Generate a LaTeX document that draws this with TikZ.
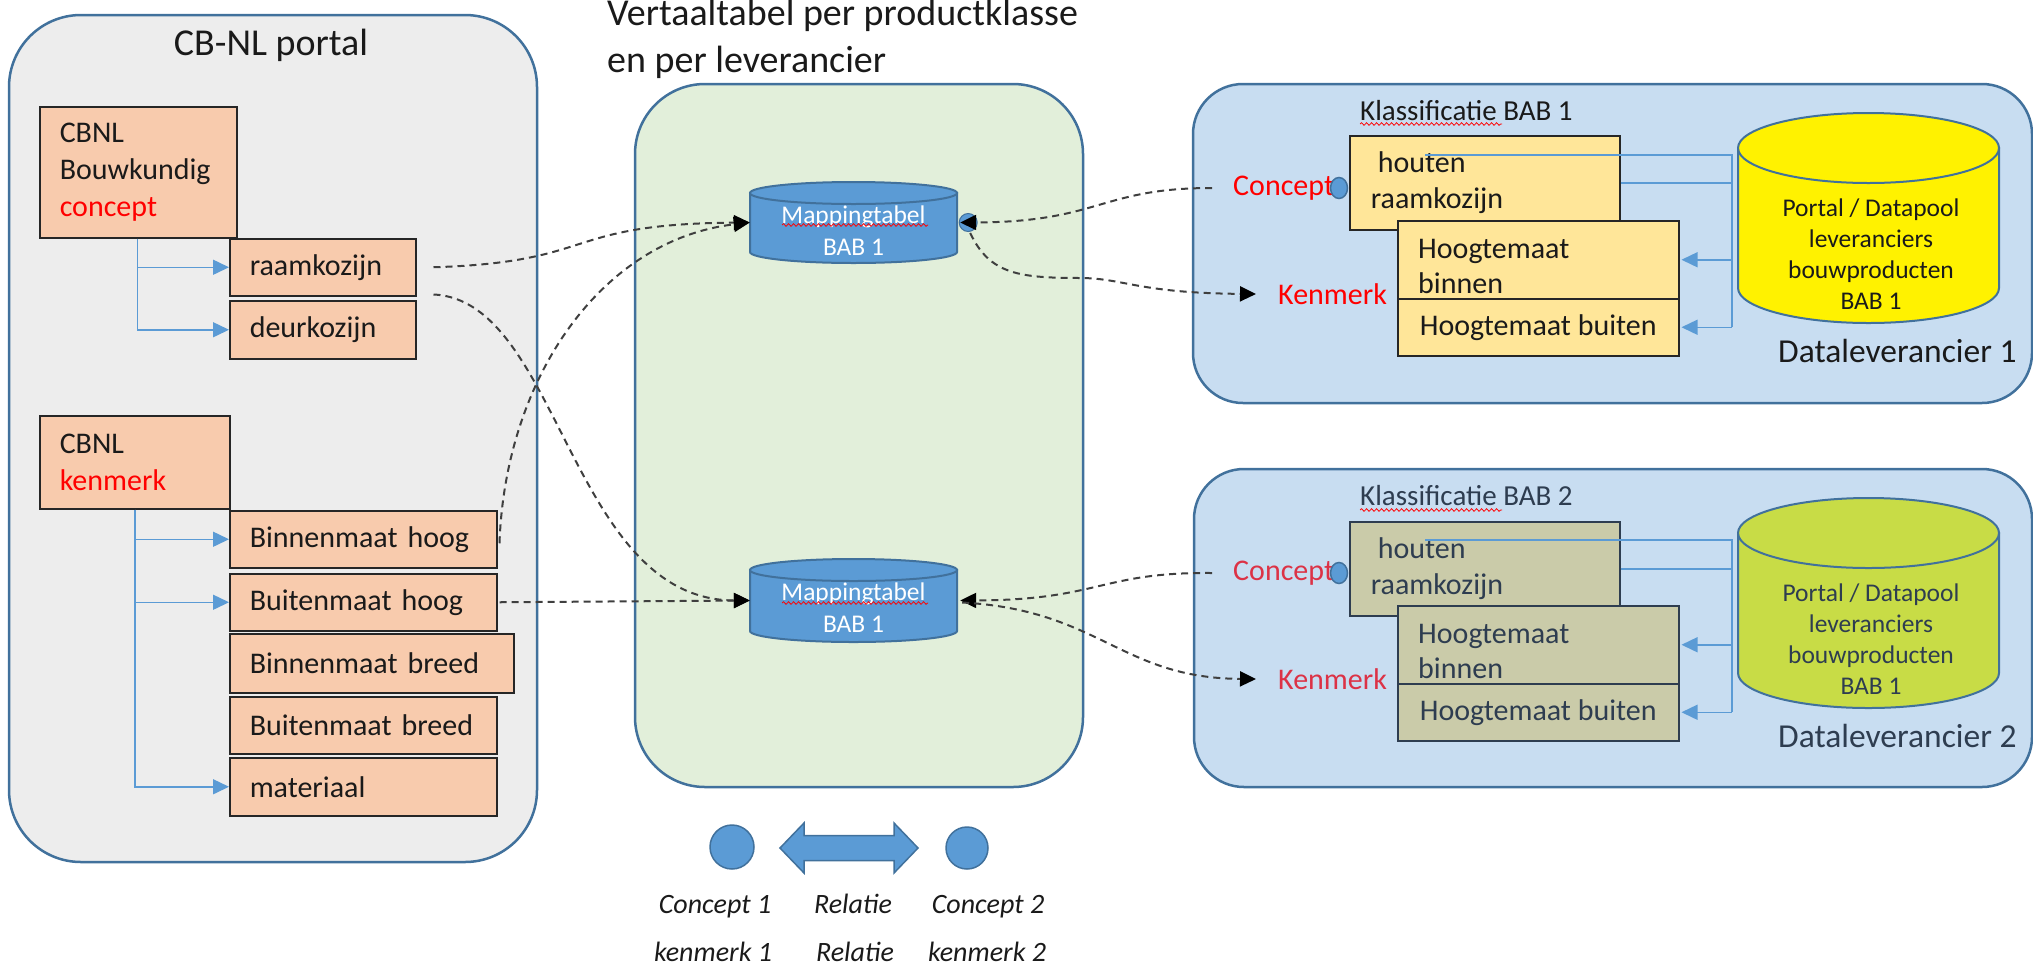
\documentclass[tikz,border=0pt]{standalone}
\usepackage{fontspec}
\setmainfont{Carlito}
\usetikzlibrary{arrows.meta,decorations.pathmorphing,calc}
\definecolor{portalfill}{HTML}{EDEDED}
\definecolor{frame}{HTML}{41719C}
\definecolor{greenfill}{HTML}{E2EFDA}
\definecolor{bluefill}{HTML}{C8DDF1}
\definecolor{orangefill}{HTML}{F8CBAD}
\definecolor{yellowbox}{HTML}{FFE699}
\definecolor{olivebox}{HTML}{CACBA9}
\definecolor{mapblue}{HTML}{5B9BD5}
\definecolor{dashcol}{HTML}{3F3F3F}
\definecolor{slate}{HTML}{2E3D50}
\definecolor{crimson}{HTML}{DC3246}
\definecolor{limecyl}{HTML}{C8DC46}
\definecolor{boxline}{HTML}{262626}
\definecolor{txt}{HTML}{1A1A1A}
\newcommand{\drawcyl}[6]{%
 \path[draw=frame, line width=2, fill=#6] ({#1-#4},#2) -- ({#1-#4},#3) .. controls ({#1-#4},{#3+0.5523*#5}) and ({#1-0.5523*#4},{#3+#5}) .. (#1,{#3+#5}) .. controls ({#1+0.5523*#4},{#3+#5}) and ({#1+#4},{#3+0.5523*#5}) .. ({#1+#4},#3) -- ({#1+#4},#2) -- cycle;
 \path[draw=frame, line width=2, fill=#6] (#1,#2) ellipse [x radius=#4pt, y radius=#5pt];
}
\begin{document}
\begin{tikzpicture}[x=1pt, y=-1pt,
 panel/.style={draw=frame, line width=2.5},
 obox/.style={draw=boxline, fill=orangefill, line width=1.5, inner xsep=20, inner ysep=0, align=left, anchor=north west, font=\fontsize{30}{37}\selectfont, text=txt},
 ybox/.style={draw=boxline, fill=yellowbox, line width=1.5, inner xsep=21, inner ysep=0, align=left, anchor=north west, font=\fontsize{30}{36}\selectfont, text=txt},
 gbox/.style={ybox, draw=slate, fill=olivebox, text=slate},
 barrow/.style={draw=mapblue, line width=1.5, -{Triangle[length=16pt,width=15pt]}},
 bline/.style={draw=mapblue, line width=1.5},
 dcon/.style={draw=dashcol, line width=2, dash pattern=on 7pt off 5pt},
 darrow/.style={dcon, -{Triangle[length=16pt,width=15pt,fill=black,color=black]}},
 wavy/.style={draw=red, line width=0.8, decorate, decoration={snake, amplitude=1.3pt, segment length=5pt}},
 lbl/.style={inner sep=0, text=txt},
]
\useasboundingbox (0,0) rectangle (2033,967);

% ---------- panels ----------
\path[panel, fill=portalfill, rounded corners=72pt] (9,15) rectangle (537,862);
\path[panel, fill=greenfill, rounded corners=70pt] (635,84) rectangle (1083,787);
\path[panel, fill=bluefill, rounded corners=50pt] (1193,84) rectangle (2032,403);
\path[panel, fill=bluefill, rounded corners=50pt] (1194,469) rectangle (2032,787);

% ---------- titles ----------
\node[lbl, anchor=base, font=\fontsize{38}{46}\selectfont] (ptitle) at (271,55) {CB-NL portal};
\node[lbl, anchor=base west, font=\fontsize{38}{46}\selectfont] (vt1) at (607,25) {Vertaaltabel per productklasse};
\node[lbl, anchor=base west, font=\fontsize{38}{46}\selectfont] (vt2) at (607,72) {en per leverancier};

% ---------- left portal boxes ----------
\node[obox, text width=157, minimum height=131] (cb1) at (39,106) {CBNL\\Bouwkundig\\\textcolor{red}{concept}};
\node[obox, text width=146, minimum height=57] (raam) at (229,238) {raamkozijn};
\node[obox, text width=146, minimum height=58] (deur) at (229,300) {deurkozijn};
\node[obox, text width=150, minimum height=93] (cb2) at (39,415) {CBNL\\\textcolor{red}{kenmerk}};
\node[obox, text width=227, minimum height=57] (bh) at (229,510) {Binnenmaat hoog};
\node[obox, text width=227, minimum height=57] (bu) at (229,573) {Buitenmaat hoog};
\node[obox, text width=244, minimum height=59] (bb) at (229,633) {Binnenmaat breed};
\node[obox, text width=227, minimum height=57] (ub) at (229,696) {Buitenmaat breed};
\node[obox, text width=227, minimum height=58] (mat) at (229,757) {materiaal};

\draw[barrow] ($(cb1.south west)+(98.5,0)$) |- (raam.west);
\draw[barrow] ($(cb1.south west)+(98.5,0)$) |- (deur.west);
\draw[barrow] ($(cb2.south west)+(96,0)$) |- (bh.west);
\draw[barrow] ($(cb2.south west)+(96,0)$) |- (bu.west);
\draw[barrow] ($(cb2.south west)+(96,0)$) |- (mat.west);

% ---------- mapping cylinders ----------
\drawcyl{853.5}{193}{252}{103.5}{11}{mapblue}
\drawcyl{853.5}{570}{631}{103.5}{11}{mapblue}
\node[minimum width=207, minimum height=81, inner sep=0] (m1) at (853.5,222.5) {};
\node[minimum width=207, minimum height=83, inner sep=0] (m2) at (853.5,600.5) {};
\node[inner sep=0, align=center, text=white, font=\fontsize{25.5}{32}\selectfont] (m1t) at (853.5,231) {Mappingtabel\\BAB 1};
\node[inner sep=0, align=center, text=white, font=\fontsize{25.5}{32}\selectfont] (m2t) at (853.5,608) {Mappingtabel\\BAB 1};
\draw[wavy] (782,225) -- (928,225);
\draw[wavy] (782,603) -- (928,603);

% ---------- data supplier 1 ----------
\node[lbl, anchor=base west, font=\fontsize{29}{35}\selectfont] (kl1) at (1360,120) {Klassificatie BAB 1};
\draw[wavy] (1360,124) -- (1502,124);
\node[ybox, text width=228, minimum height=94] (hr1) at (1349,135) {\hspace*{7pt}houten\\raamkozijn};
\node[ybox, minimum width=281, minimum height=78, inner sep=0] (hb1) at (1397,220) {};
\node[lbl, anchor=west, align=left, font=\fontsize{30}{35}\selectfont] (hb1t) at (1418,266.5) {Hoogtemaat\\binnen};
\node[ybox, minimum width=281, inner xsep=0, minimum height=57] (hu1) at (1397,298) {Hoogtemaat buiten};
\drawcyl{1868.5}{148}{288}{130.5}{35}{yellow}
\node[lbl, align=center, font=\fontsize{25.5}{31}\selectfont] (dp1) at (1871,254) {Portal / Datapool\\leveranciers\\bouwproducten\\BAB 1};
\node[lbl, anchor=base west, font=\fontsize{33.5}{40}\selectfont] (dl1) at (1778,362) {Dataleverancier 1};
\node[lbl, anchor=west, text=red, font=\fontsize{30}{36}\selectfont] (con1) at (1233,188) {Concept};
\node[lbl, anchor=west, text=red, font=\fontsize{30}{36}\selectfont] (ken1) at (1278,294) {Kenmerk};
\coordinate (v1) at (1732,0);
\coordinate (s1) at (1425,155);
\draw[bline] (s1) -- (v1 |- s1) -- (v1 |- hu1.east);
\draw[bline] (hr1.east) -- (v1 |- hr1.east);
\draw[barrow] (v1 |- hb1.east) -- ([xshift=2]hb1.east);
\draw[barrow] (v1 |- hu1.east) -- ([xshift=2]hu1.east);
\path[draw=frame, line width=1.5, fill=mapblue] (1339,188) ellipse [x radius=8.5pt, y radius=10.5pt];

% ---------- data supplier 2 ----------
\node[lbl, anchor=base west, text=slate, font=\fontsize{29}{35}\selectfont] (kl2) at (1360,505) {Klassificatie BAB 2};
\draw[wavy] (1360,510) -- (1502,510);
\node[gbox, text width=228, minimum height=94] (hr2) at (1349,521) {\hspace*{7pt}houten\\raamkozijn};
\node[gbox, minimum width=281, minimum height=78, inner sep=0] (hb2) at (1397,605) {};
\node[lbl, anchor=west, align=left, text=slate, font=\fontsize{30}{35}\selectfont] (hb2t) at (1418,651.5) {Hoogtemaat\\binnen};
\node[gbox, minimum width=281, inner xsep=0, minimum height=57] (hu2) at (1397,683) {Hoogtemaat buiten};
\drawcyl{1868.5}{533}{673}{130.5}{35}{limecyl}
\node[lbl, align=center, text=slate, font=\fontsize{25.5}{31}\selectfont] (dp2) at (1871,639.5) {Portal / Datapool\\leveranciers\\bouwproducten\\BAB 1};
\node[lbl, anchor=base west, text=slate, font=\fontsize{33.5}{40}\selectfont] (dl2) at (1778,747) {Dataleverancier 2};
\node[lbl, anchor=west, text=crimson, font=\fontsize{30}{36}\selectfont] (con2) at (1233,573) {Concept};
\node[lbl, anchor=west, text=crimson, font=\fontsize{30}{36}\selectfont] (ken2) at (1278,679) {Kenmerk};
\coordinate (v2) at (1732,0);
\coordinate (s2) at (1425,540);
\draw[bline] (s2) -- (v2 |- s2) -- (v2 |- hu2.east);
\draw[bline] (hr2.east) -- (v2 |- hr2.east);
\draw[barrow] (v2 |- hb2.east) -- ([xshift=2]hb2.east);
\draw[barrow] (v2 |- hu2.east) -- ([xshift=2]hu2.east);
\path[draw=frame, line width=1.5, fill=mapblue] (1339,573) ellipse [x radius=8.5pt, y radius=10.5pt];

% ---------- dashed mapping connectors ----------
\path[draw=frame, line width=1, fill=mapblue] ([xshift=11]m1.east) circle [radius=9pt];
\draw[darrow] ([xshift=17]raam.east) .. controls (600,262) and (560,224) .. (m1.west);
\draw[darrow] ([shift={(17,-2)}]raam.south east) .. controls (560,300) and (570,600) .. (m2.west);
\draw[darrow] ([shift={(2,4)}]bh.east) .. controls (505,380) and (600,240) .. (m1.west);
\draw[darrow] ([xshift=2]bu.east) -- (m2.west);
\draw[darrow] ([xshift=-21]con1.west) .. controls (1100,188) and (1100,222) .. ([xshift=3]m1.east);
\draw[darrow] ([shift={(13,10.5)}]m1.east) .. controls (990,275) and (1020,278) .. (1083,278) .. controls (1125,279) and (1140,293) .. ([xshift=-22]ken1.west);
\draw[darrow] ([xshift=-21]con2.west) .. controls (1100,572) and (1100,600) .. ([xshift=3]m2.east);
\draw[darrow] ([shift={(5,2)}]m2.east) .. controls (1100,610) and (1120,678) .. ([xshift=-22]ken2.west);

% ---------- legend ----------
\node[circle, draw=frame, line width=1.5, fill=mapblue, minimum size=44, inner sep=0] (lc1) at (732,847) {};
\node[circle, draw=frame, line width=1.5, fill=mapblue, minimum size=42, inner sep=0] (lc2) at (967,848) {};
\path[draw=frame, line width=1.5, fill=mapblue] (780,848) -- (804,823) -- (804,835.5) -- (894,835.5) -- (894,823) -- (918,848) -- (894,873) -- (894,860.5) -- (804,860.5) -- (804,873) -- cycle;
\node[lbl, anchor=base, font=\fontsize{28}{34}\selectfont\itshape] (lt1) at (715,913) {Concept 1};
\node[lbl, anchor=base, font=\fontsize{28}{34}\selectfont\itshape] (lt2) at (853,913) {Relatie};
\node[lbl, anchor=base, font=\fontsize{28}{34}\selectfont\itshape] (lt3) at (988,913) {Concept 2};
\node[lbl, anchor=base, font=\fontsize{28}{34}\selectfont\itshape] (lt4) at (713,961) {kenmerk 1};
\node[lbl, anchor=base, font=\fontsize{28}{34}\selectfont\itshape] (lt5) at (855,961) {Relatie};
\node[lbl, anchor=base, font=\fontsize{28}{34}\selectfont\itshape] (lt6) at (987,961) {kenmerk 2};
\end{tikzpicture}
\end{document}
